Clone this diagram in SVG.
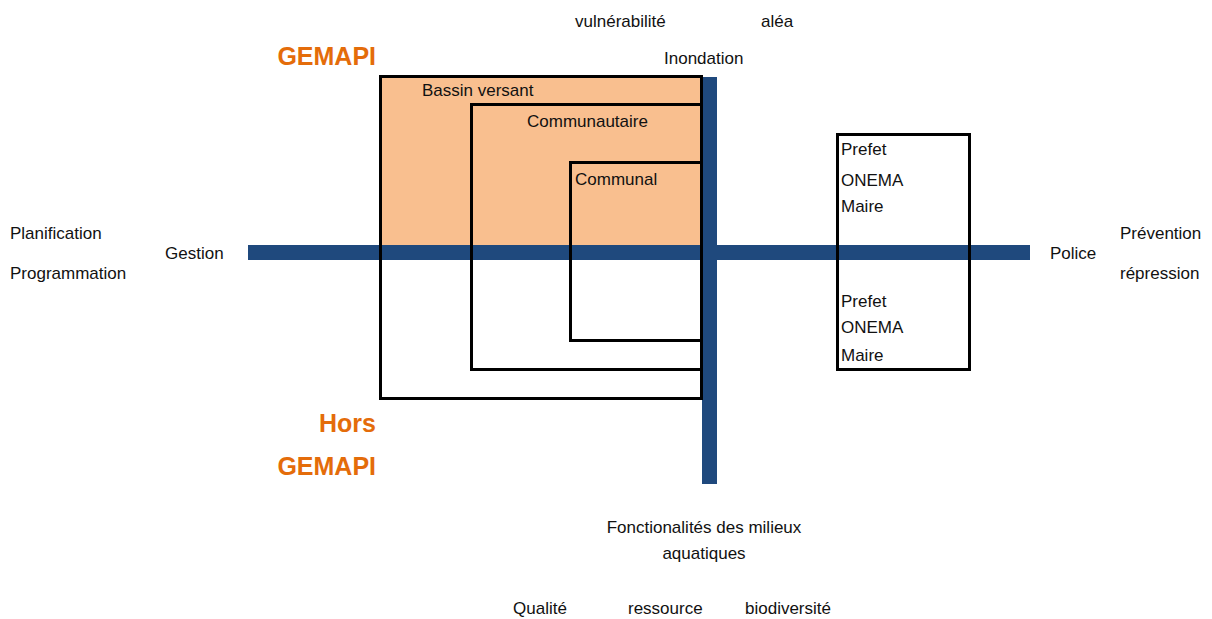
<svg xmlns="http://www.w3.org/2000/svg" width="1212" height="619" viewBox="0 0 1212 619">
<style>
.t{font-family:"Liberation Sans",Arial,sans-serif;font-size:17px;fill:#111}
.o{font-family:"Liberation Sans",Arial,sans-serif;font-size:25px;font-weight:bold;fill:#E46C0A}
.box{fill:none;stroke:#000;stroke-width:3}
.bar{fill:#1F497D}
</style>
<rect width="1212" height="619" fill="#fff"/>
<g id="fill"><rect x="380" y="76" width="322" height="170" fill="#F9BF8F"/></g>
<g id="connectors">
<rect class="bar" x="248" y="245" width="782" height="15"/>
<rect class="bar" x="702" y="77" width="15" height="407"/>
</g>
<g id="bassin-versant"><rect class="box" x="380.5" y="76.5" width="321" height="322"/><text class="t" x="422" y="96">Bassin versant</text></g>
<g id="communautaire"><rect class="box" x="471.5" y="104.5" width="230" height="265"/><text class="t" x="527" y="127">Communautaire</text></g>
<g id="communal"><rect class="box" x="570.5" y="162.5" width="131" height="178"/><text class="t" x="575" y="185">Communal</text></g>
<g id="police-box"><rect class="box" x="837.5" y="134.5" width="132" height="235"/>
<text class="t" x="841" y="155">Prefet</text><text class="t" x="841" y="186">ONEMA</text><text class="t" x="841" y="212">Maire</text>
<text class="t" x="841" y="307">Prefet</text><text class="t" x="841" y="333">ONEMA</text><text class="t" x="841" y="361">Maire</text></g>
<g id="gemapi"><text class="o" x="376" y="65" text-anchor="end">GEMAPI</text></g>
<g id="hors-gemapi"><text class="o" x="376" y="432" text-anchor="end">Hors</text><text class="o" x="376" y="475" text-anchor="end">GEMAPI</text></g>
<g id="top-labels"><text class="t" x="575" y="27">vulnérabilité</text><text class="t" x="761" y="27">aléa</text><text class="t" x="664" y="64">Inondation</text></g>
<g id="left-labels"><text class="t" x="10" y="239">Planification</text><text class="t" x="10" y="279">Programmation</text><text class="t" x="165" y="259">Gestion</text></g>
<g id="right-labels"><text class="t" x="1050" y="259">Police</text><text class="t" x="1120" y="239">Prévention</text><text class="t" x="1120" y="279">répression</text></g>
<g id="bottom-labels"><text class="t" x="704" y="533" text-anchor="middle">Fonctionalités des milieux</text><text class="t" x="704" y="559" text-anchor="middle">aquatiques</text>
<text class="t" x="513" y="614">Qualité</text><text class="t" x="628" y="614">ressource</text><text class="t" x="745" y="614">biodiversité</text></g>
</svg>
